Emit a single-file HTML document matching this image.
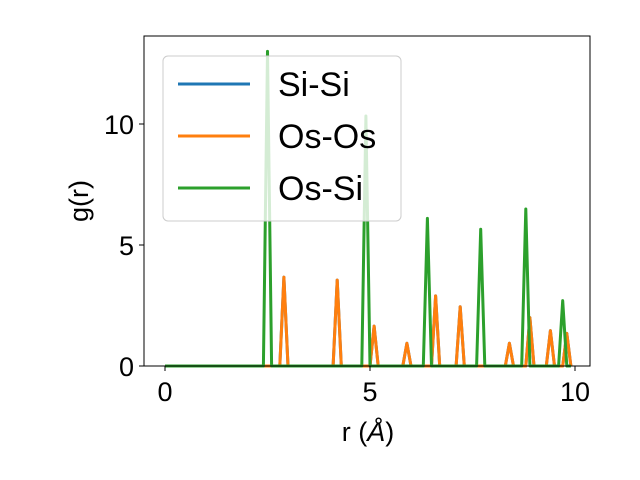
<!DOCTYPE html>
<html><head><meta charset="utf-8"><style>body{margin:0;background:#fff}svg{display:block;font-family:"Liberation Sans","DejaVu Sans",sans-serif}</style></head>
<body>
<svg id="chart" width="640" height="480" viewBox="0 0 640 480">
<g id="plot"></g>
<g id="axes"></g>
<g id="legend">
<rect x="163" y="56" width="238" height="165" rx="5" fill="#fff" fill-opacity="0.8" stroke="#ccc"/>
<g><line x1="178" y1="84" x2="250" y2="84" stroke="#1f77b4" stroke-width="3"/><text x="278" y="96" font-size="34">Si-Si</text></g>
<g><line x1="178" y1="136" x2="250" y2="136" stroke="#ff7f0e" stroke-width="3"/><text x="278" y="148" font-size="34">Os-Os</text></g>
<g><line x1="178" y1="188" x2="250" y2="188" stroke="#2ca02c" stroke-width="3"/><text x="278" y="200" font-size="34">Os-Si</text></g>
</g>
</svg>
<script>
const siSiR=[2.9,4.2,5.1,5.9,6.6,7.2,8.4,8.9,9.4,9.8];
const siSiG=[3.67,3.55,1.65,0.94,2.9,2.45,0.94,2.0,1.46,1.35];
const osOsR=[2.9,4.2,5.1,5.9,6.6,7.2,8.4,8.9,9.4,9.8];
const osOsG=[3.67,3.55,1.65,0.94,2.9,2.45,0.94,2.0,1.46,1.35];
const osSiR=[2.5,4.9,6.4,7.7,8.8,9.7];
const osSiG=[13.0,10.33,6.1,5.65,6.49,2.7];
const xTicks=[0,5,10];
const yTicks=[0,5,10];
const rMax=9.9;
const NS="http://www.w3.org/2000/svg";
const X0=144,X1=590,Y0=366,Y1=36;
function xs(v){return 165+v*41;}
function ys(v){return 366-v*24.2;}
function mk(t,a,p){const e=document.createElementNS(NS,t);for(const k in a)e.setAttribute(k,a[k]);p.appendChild(e);return e;}
const plot=document.getElementById('plot'),axes=document.getElementById('axes');
function series(R,G,color,name){
  let pts=[[0,0]];
  R.forEach((r,i)=>{pts.push([r-0.1,0],[r,G[i]],[r+0.1,0]);});
  pts.push([rMax,0]);
  const p=mk('polyline',{points:pts.map(q=>xs(q[0])+','+ys(q[1])).join(' '),fill:'none',stroke:color,'stroke-width':3,'stroke-linejoin':'round'},plot);
  
  
}
series(siSiR,siSiG,'#1f77b4','series-si-si');
series(osOsR,osOsG,'#ff7f0e','series-os-os');
series(osSiR,osSiG,'#2ca02c','series-os-si');
const fr=mk('rect',{x:X0,y:Y1,width:X1-X0,height:Y0-Y1,fill:'none',stroke:'#000','stroke-width':1},axes);


xTicks.forEach(t=>{
  mk('line',{x1:xs(t),x2:xs(t),y1:Y0,y2:Y0+5,stroke:'#000'},axes);
  const l=mk('text',{x:xs(t),y:Y0+35,'font-size':27,'text-anchor':'middle'},axes);l.textContent=t;
  
  
});
yTicks.forEach(t=>{
  mk('line',{x1:X0-5,x2:X0,y1:ys(t),y2:ys(t),stroke:'#000'},axes);
  const l=mk('text',{x:X0-10,y:ys(t)+10,'font-size':27,'text-anchor':'end'},axes);l.textContent=t;
  
  
});
const xl=mk('text',{x:368,y:441,'font-size':27,'text-anchor':'middle'},axes);xl.innerHTML='r (<tspan font-style="italic">Å</tspan>)';


const yl=mk('text',{x:0,y:0,'font-size':27,'text-anchor':'middle',transform:'translate(88,201) rotate(-90)'},axes);yl.textContent='g(r)';


</script>
</body></html>
